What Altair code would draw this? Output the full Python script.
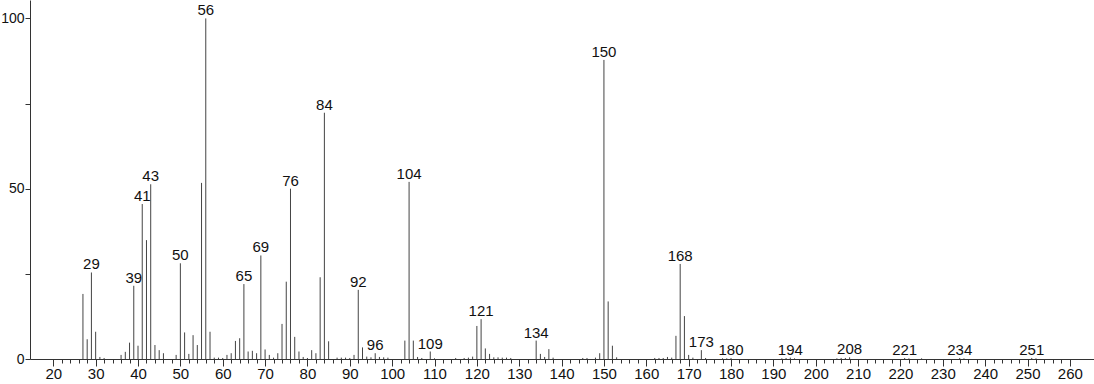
import altair as alt
import pandas as pd

mz = [27, 28, 29, 30, 31, 32, 36, 37, 38, 39, 40, 41, 42, 43, 44, 45, 46, 49,
      50, 51, 52, 53, 54, 55, 56, 57, 58, 59, 60, 61, 62, 63, 64, 65, 66, 67, 68,
      69, 70, 71, 72, 73, 74, 75, 76, 77, 78, 79, 80, 81, 82, 83, 84, 85, 87, 88,
      89, 90, 91, 92, 93, 94, 95, 96, 97, 98, 99, 103, 104, 105, 106, 107, 109,
      110, 115, 117, 118, 119, 120, 121, 122, 123, 124, 125, 126, 127, 128, 134,
      135, 136, 137, 138, 145, 146, 148, 149, 150, 151, 152, 153, 162, 163, 164,
      165, 166, 167, 168, 169, 170, 171, 173, 174, 178, 179, 180, 192, 193, 194,
      195, 205, 206, 207, 208, 221, 222, 225, 234, 235, 251, 252]
intensity = [19.1, 5.8, 25.4, 8.0, 0.6, 0.3, 1.2, 2.1, 4.8, 21.5, 3.9, 45.5, 34.9,
             51.3, 4.1, 2.6, 1.7, 1.2, 28.1, 7.8, 1.5, 7.0, 4.1, 51.7, 100.0, 8.0,
             0.4, 0.4, 0.3, 1.2, 1.7, 5.3, 6.1, 22.0, 2.2, 2.4, 1.7, 30.4, 2.8, 1.2,
             0.4, 1.7, 10.3, 22.7, 50.0, 6.5, 2.2, 0.6, 0.3, 2.6, 1.7, 24.0, 72.3,
             5.2, 0.4, 0.4, 0.4, 0.3, 1.2, 20.3, 3.4, 0.7, 0.5, 1.7, 0.6, 0.5, 0.4,
             5.4, 52.0, 5.4, 0.6, 0.3, 2.2, 0.2, 0.3, 0.3, 0.4, 0.7, 9.7, 11.7, 3.1,
             1.5, 0.5, 0.5, 0.4, 0.4, 0.3, 5.4, 1.5, 0.6, 2.9, 0.4, 0.3, 0.3, 0.4,
             1.7, 87.8, 16.9, 3.9, 0.5, 0.3, 0.3, 0.3, 0.6, 0.4, 6.8, 27.9, 12.6,
             1.2, 0.4, 2.6, 0.3, 0.2, 0.2, 0.3, 0.2, 0.3, 0.4, 0.2, 0.2, 0.3, 0.3,
             0.5, 0.3, 0.2, 0.2, 0.3, 0.2, 0.3, 0.2]
labeled = [29, 39, 41, 43, 50, 56, 65, 69, 76, 84, 92, 96, 104, 109, 121, 134,
           150, 168, 173, 180, 194, 208, 221, 234, 251]

x_ticks = list(range(20, 261, 2))
y_ticks = [0, 25, 50, 75, 100]

df = pd.DataFrame({"mz": mz, "intensity": intensity})
df["label"] = [str(m) if m in labeled else "" for m in mz]
lab_df = df[df["label"] != ""]

x_scale = alt.Scale(domain=[14.5, 265.7], nice=False, zero=False)
y_scale = alt.Scale(domain=[0, 105.4], nice=False)

axis_color = "#333333"
font = "Liberation Sans"

x_axis = alt.Axis(
    values=x_ticks, title=None, grid=False,
    labelExpr="datum.value % 10 === 0 ? datum.label : ''",
    tickSize={"condition": {"test": "datum.value % 10 === 0", "value": 7}, "value": 4},
    labelPadding=0, labelFontSize=15, labelFont=font, labelColor="#111111",
    domainColor=axis_color, tickColor=axis_color, labelFlush=False,
    labelOverlap=False, labelBound=False,
)
y_axis = alt.Axis(
    values=y_ticks, title=None, grid=False,
    labelExpr="datum.value % 50 === 0 ? datum.label : ''",
    tickSize=5, labelPadding=1, labelFontSize=14, labelFont=font,
    labelColor="#111111", domainColor=axis_color, tickColor=axis_color,
    labelFlush=False, labelOverlap=False,
)

bars = alt.Chart(df).mark_rule(color="#444444", strokeWidth=1).encode(
    x=alt.X("mz:Q", scale=x_scale, axis=x_axis),
    y=alt.Y("intensity:Q", scale=y_scale, axis=y_axis),
    y2=alt.datum(0),
)

labels = alt.Chart(lab_df).mark_text(
    baseline="alphabetic", align="center", dy=-3, fontSize=15, font=font,
    color="#111111",
).encode(
    x=alt.X("mz:Q", scale=x_scale, axis=x_axis),
    y=alt.Y("intensity:Q", scale=y_scale, axis=y_axis),
    text="label:N",
)

chart = alt.layer(bars, labels).properties(
    width=1064, height=359,
    autosize=alt.AutoSizeParams(type="none"),
    padding={"left": 30, "top": 0, "right": 0, "bottom": 25},
    background="white",
).configure_view(stroke=None)

chart.save("out.html", embed_options={"renderer": "svg", "actions": False})
